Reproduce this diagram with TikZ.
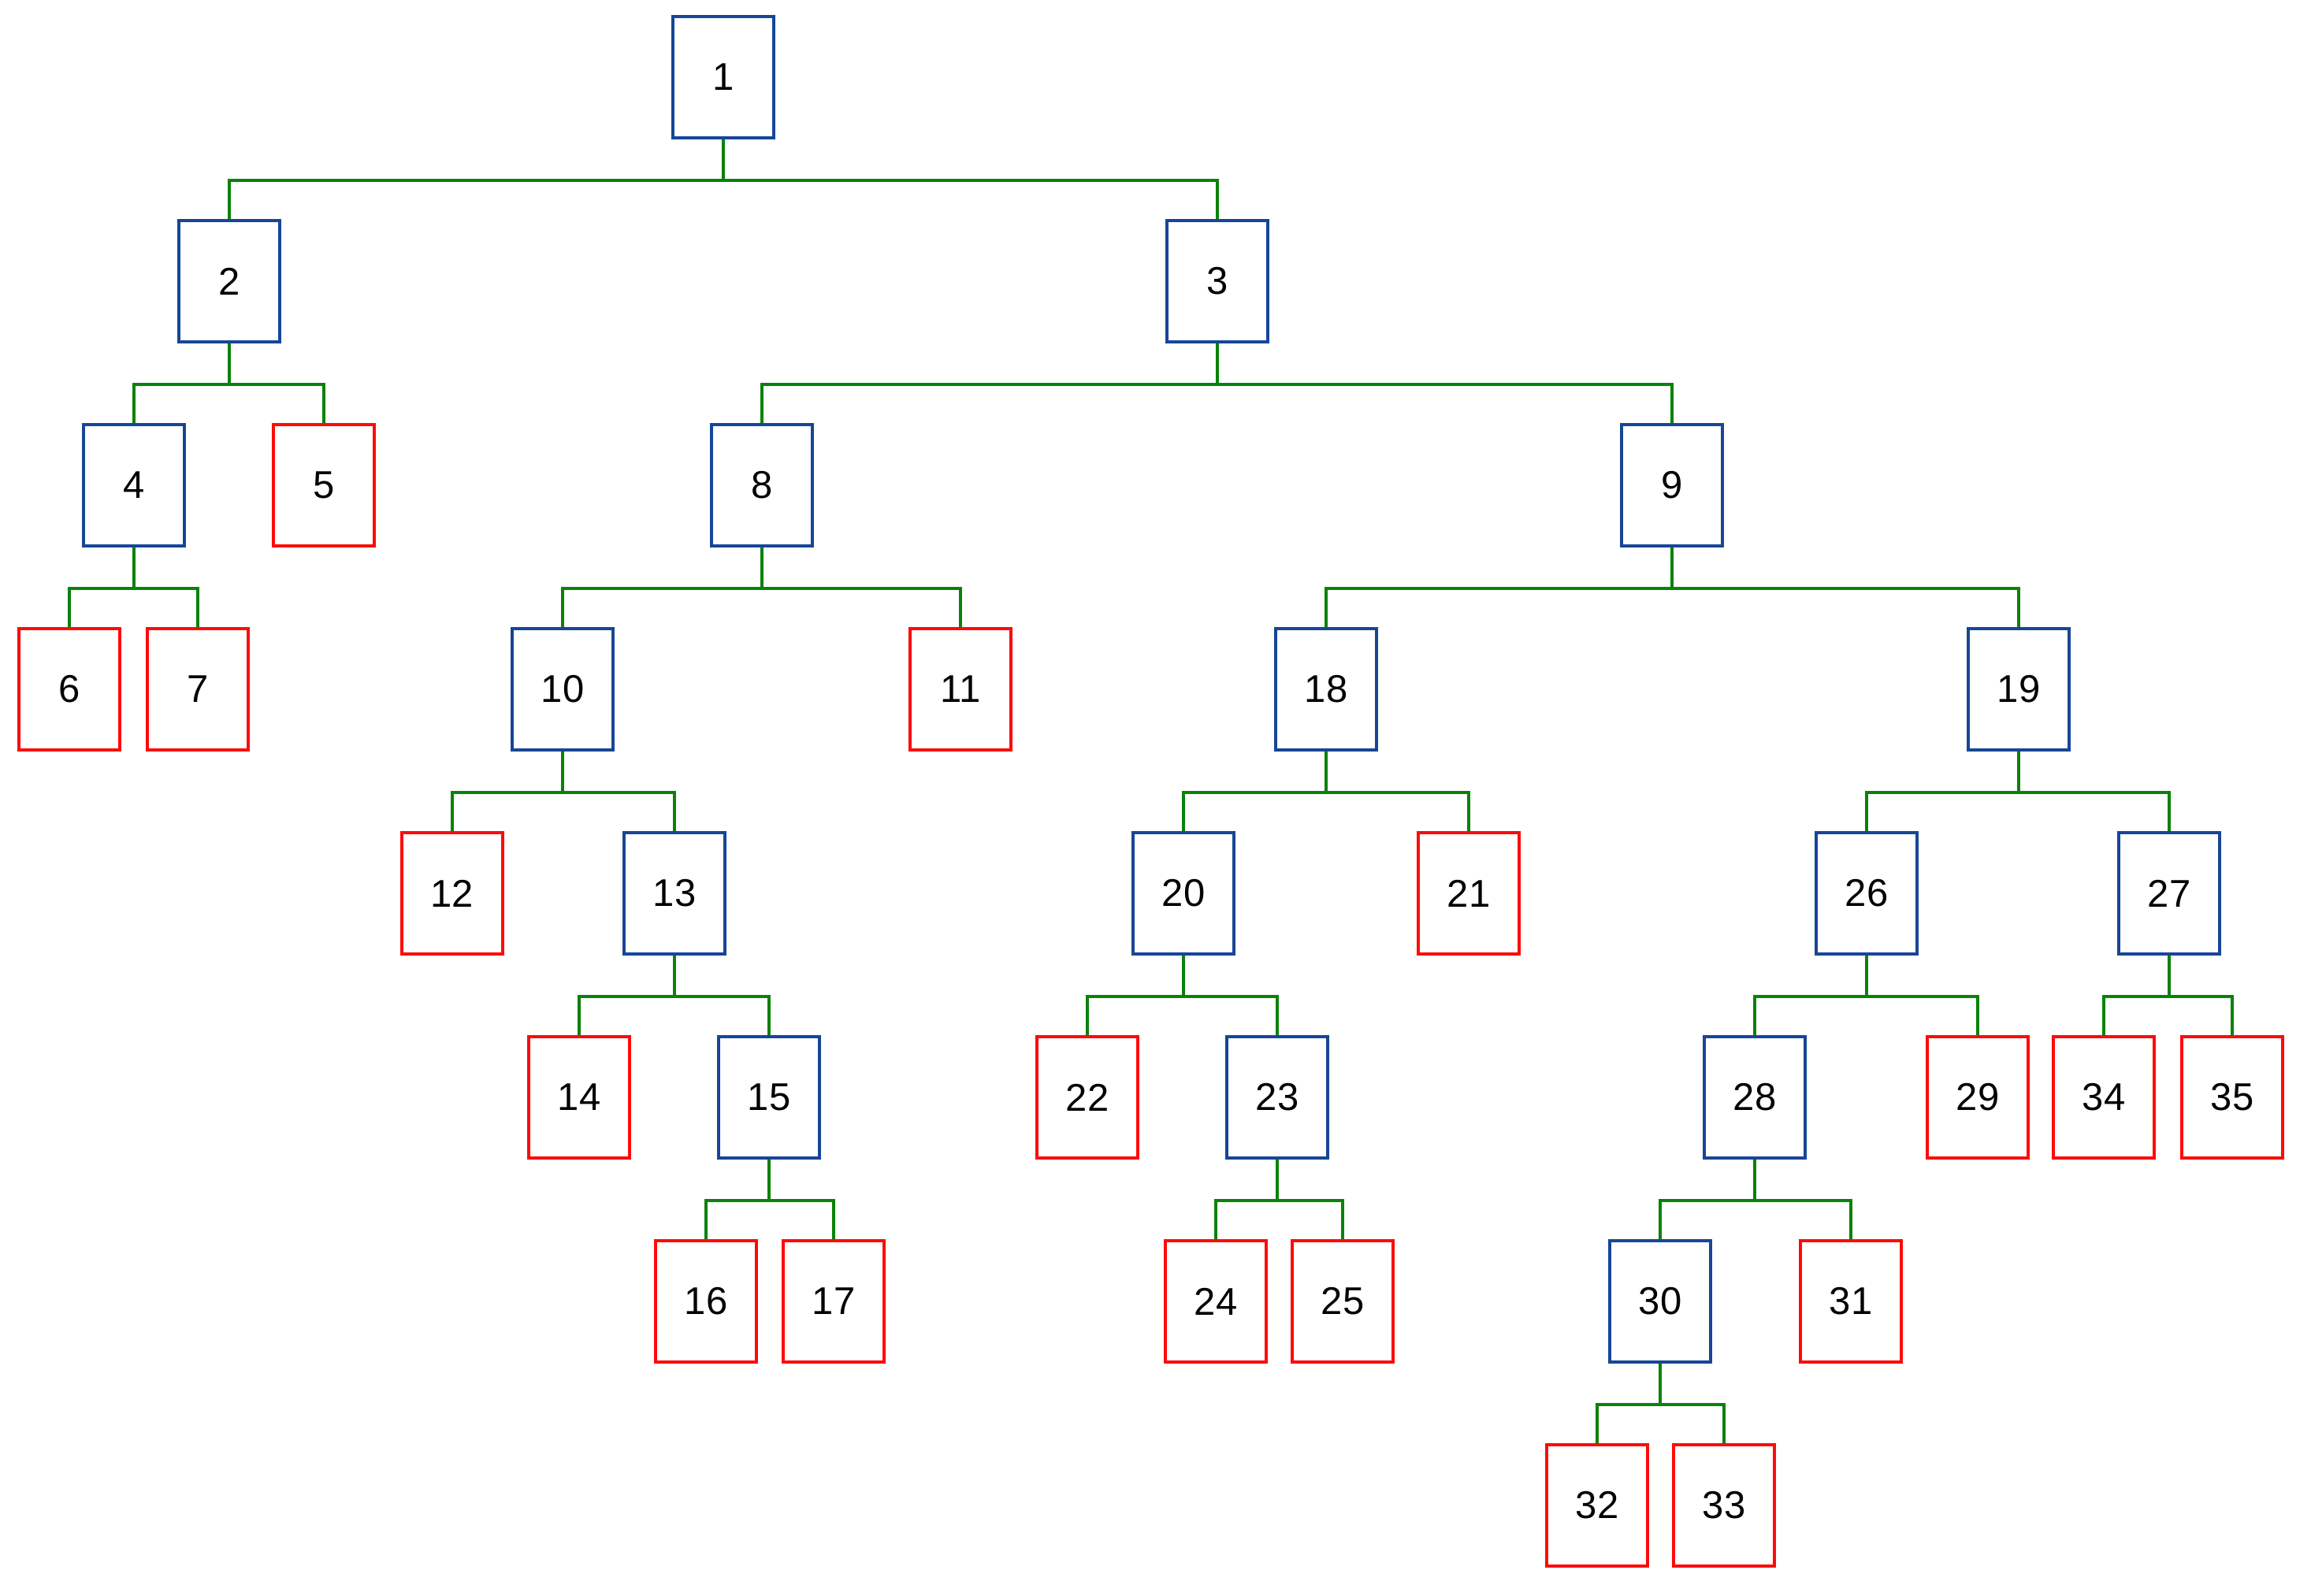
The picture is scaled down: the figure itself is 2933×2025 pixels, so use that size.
\documentclass[tikz,border=0pt]{standalone}
\usepackage{fontspec}
\setmainfont{Liberation Sans}
\definecolor{boxblue}{RGB}{22,70,150}
\definecolor{boxred}{RGB}{255,10,10}
\definecolor{linkgreen}{RGB}{10,130,10}
\tikzset{
  tbox/.style={draw, line width=1pt, minimum width=32pt, minimum height=38.5pt, inner sep=0pt, font=\fontsize{12.25pt}{14pt}\selectfont, fill=white},
  inner/.style={tbox, draw=boxblue},
  leaf/.style={tbox, draw=boxred},
  edge/.style={draw=linkgreen, line width=1pt}
}
\newcommand{\fork}[2]{\draw[edge] (#1.south) -- ++(0,52) -| (#2.north);}
\begin{document}
\begin{tikzpicture}[x=0.25pt,y=-0.25pt]
\useasboundingbox (0,0) rectangle (2933,2025);
% level y centres: 98 + 259k
\node[inner] (n1) at (918,98) {1};
\node[inner] (n2) at (291,357) {2};
\node[inner] (n3) at (1545,357) {3};
\node[inner] (n4) at (170,616) {4};
\node[leaf]  (n5) at (411,616) {5};
\node[inner] (n8) at (967,616) {8};
\node[inner] (n9) at (2122,616) {9};
\node[leaf]  (n6) at (88,875) {6};
\node[leaf]  (n7) at (251,875) {7};
\node[inner] (n10) at (714,875) {10};
\node[leaf]  (n11) at (1219,875) {11};
\node[inner] (n18) at (1683,875) {18};
\node[inner] (n19) at (2562,875) {19};
\node[leaf]  (n12) at (574,1134) {12};
\node[inner] (n13) at (856,1134) {13};
\node[inner] (n20) at (1502,1134) {20};
\node[leaf]  (n21) at (1864,1134) {21};
\node[inner] (n26) at (2369,1134) {26};
\node[inner] (n27) at (2753,1134) {27};
\node[leaf]  (n14) at (735,1393) {14};
\node[inner] (n15) at (976,1393) {15};
\node[leaf]  (n22) at (1380,1393) {22};
\node[inner] (n23) at (1621,1393) {23};
\node[inner] (n28) at (2227,1393) {28};
\node[leaf]  (n29) at (2510,1393) {29};
\node[leaf]  (n34) at (2670,1393) {34};
\node[leaf]  (n35) at (2833,1393) {35};
\node[leaf]  (n16) at (896,1652) {16};
\node[leaf]  (n17) at (1058,1652) {17};
\node[leaf]  (n24) at (1543,1652) {24};
\node[leaf]  (n25) at (1704,1652) {25};
\node[inner] (n30) at (2107,1652) {30};
\node[leaf]  (n31) at (2349,1652) {31};
\node[leaf]  (n32) at (2027,1911) {32};
\node[leaf]  (n33) at (2188,1911) {33};
% connectors
\fork{n1}{n2}\fork{n1}{n3}
\fork{n2}{n4}\fork{n2}{n5}
\fork{n3}{n8}\fork{n3}{n9}
\fork{n4}{n6}\fork{n4}{n7}
\fork{n8}{n10}\fork{n8}{n11}
\fork{n9}{n18}\fork{n9}{n19}
\fork{n10}{n12}\fork{n10}{n13}
\fork{n18}{n20}\fork{n18}{n21}
\fork{n19}{n26}\fork{n19}{n27}
\fork{n13}{n14}\fork{n13}{n15}
\fork{n20}{n22}\fork{n20}{n23}
\fork{n26}{n28}\fork{n26}{n29}
\fork{n27}{n34}\fork{n27}{n35}
\fork{n15}{n16}\fork{n15}{n17}
\fork{n23}{n24}\fork{n23}{n25}
\fork{n28}{n30}\fork{n28}{n31}
\fork{n30}{n32}\fork{n30}{n33}
\end{tikzpicture}
\end{document}
